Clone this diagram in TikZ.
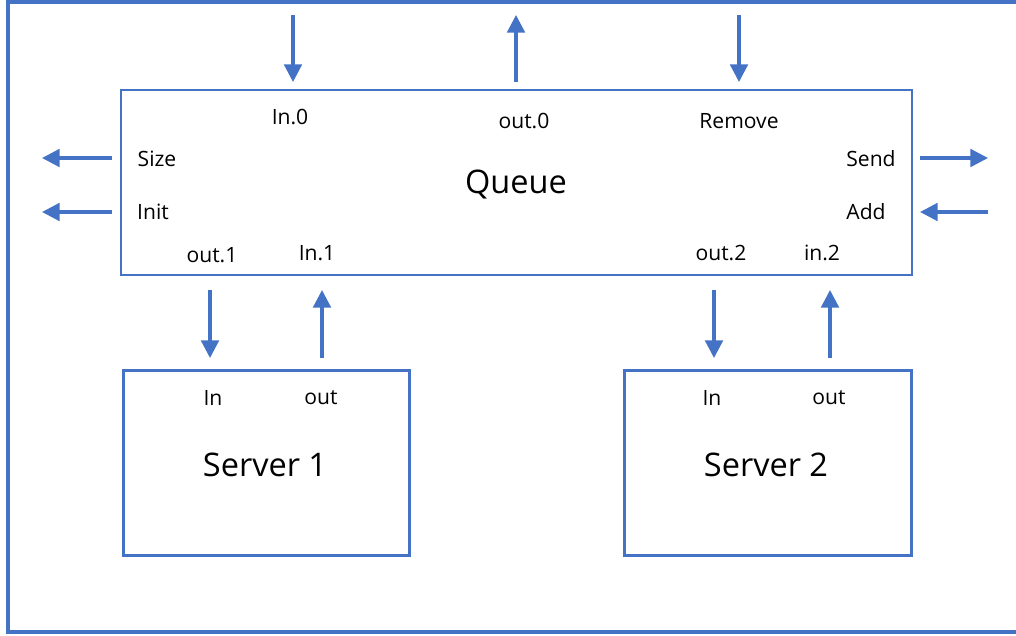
\documentclass[tikz,border=0pt]{standalone}
\usepackage{fontspec}
\setmainfont{Open Sans}
\usetikzlibrary{positioning}
\usetikzlibrary{arrows.meta}
\usetikzlibrary{shadows}
\definecolor{lineblue}{RGB}{68,114,196}

\begin{document}
\begin{tikzpicture}[x=0.02cm, y=-0.02cm, >={Triangle[length=10pt,width=10pt]},
box/.style={draw=lineblue, fill=white, rectangle, inner sep=0pt},
port/.style={font=\fontsize{12}{14}\selectfont, inner sep=0pt},
title/.style={font=\fontsize{18.5}{20}\selectfont, inner sep=0pt},
flow/.style={lineblue, line width=1.8pt, ->}]

\clip (0,0) rectangle (1016,635);

% outer frame (open on the right)
\draw[lineblue, line width=2.3pt] (1030,2) -- (8,2) -- (8,632) -- (1030,632);

% queue
\node[box, line width=1.4pt, minimum width=15.82cm, minimum height=3.7cm] (queue) at (516.5,182.5) {};
\node[title] (qname) at (516,184) {Queue};
\node[port] (in0) at (290,117) {In.0};
\node[port] (out0) at (524,121) {out.0};
\node[port] (remove) at (739,121) {Remove};
\node[port] (size) at (157,159) {Size};
\node[port] (init) at (153,212) {Init};
\node[port] (send) at (871,159) {Send};
\node[port] (add) at (866,212) {Add};
\node[port] (out1) at (212,255) {out.1};
\node[port] (in1) at (317,253) {In.1};
\node[port] (out2) at (721,253) {out.2};
\node[port] (in2) at (822,253) {in.2};

% servers
\node[box, line width=1.7pt, drop shadow={opacity=0.25, shadow xshift=0.8pt, shadow yshift=-0.8pt}, minimum width=5.74cm, minimum height=3.72cm] (srv1) at (266.5,463) {};
\node[title] (s1name) at (265,465) {Server 1};
\node[port] (s1in) at (213,398) {In};
\node[port] (s1out) at (321,398) {out};

\node[box, line width=1.7pt, drop shadow={opacity=0.25, shadow xshift=0.8pt, shadow yshift=-0.8pt}, minimum width=5.76cm, minimum height=3.72cm] (srv2) at (768,463) {};
\node[title] (s2name) at (766,465) {Server 2};
\node[port] (s2in) at (712,398) {In};
\node[port] (s2out) at (829,398) {out};

% arrow ends
\coordinate (t0a) at (293,15);  \coordinate (t0b) at (293,82);
\coordinate (t1a) at (516,82);  \coordinate (t1b) at (516,15);
\coordinate (t2a) at (739,15);  \coordinate (t2b) at (739,82);
\coordinate (l0a) at (112,158); \coordinate (l0b) at (42,158);
\coordinate (l1a) at (112,212); \coordinate (l1b) at (42,212);
\coordinate (r0a) at (920,158); \coordinate (r0b) at (988,158);
\coordinate (r1a) at (988,212); \coordinate (r1b) at (920,212);
\coordinate (b0a) at (210,290); \coordinate (b0b) at (210,358);
\coordinate (b1a) at (322,358); \coordinate (b1b) at (322,290);
\coordinate (b2a) at (714,290); \coordinate (b2b) at (714,358);
\coordinate (b3a) at (830,358); \coordinate (b3b) at (830,290);

\foreach \a/\b in {t0a/t0b, t1a/t1b, t2a/t2b, l0a/l0b, l1a/l1b, r0a/r0b, r1a/r1b, b0a/b0b, b1a/b1b, b2a/b2b, b3a/b3b}
  \draw[flow] (\a) -- (\b);

\end{tikzpicture}
\end{document}
